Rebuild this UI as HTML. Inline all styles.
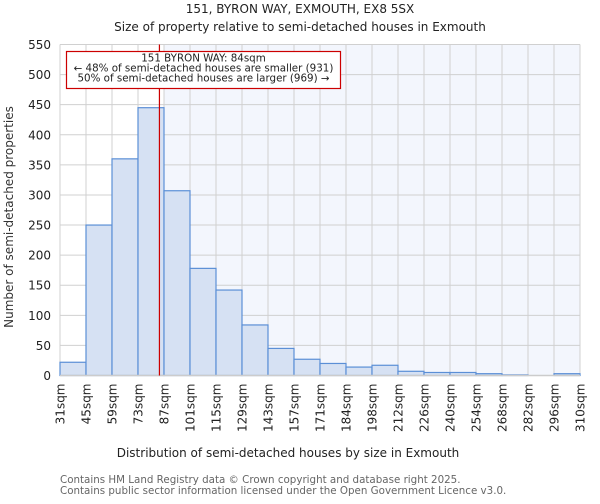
<!DOCTYPE html>
<html><head><meta charset="utf-8"><style>
body{margin:0;background:#fff;font-family:"DejaVu Sans","Liberation Sans",sans-serif;}
</style></head><body>
<svg width="600" height="500" xmlns="http://www.w3.org/2000/svg" font-family="DejaVu Sans, Liberation Sans, sans-serif">
<text x="300" y="13" text-anchor="middle" font-size="12" fill="#222">151, BYRON WAY, EXMOUTH, EX8 5SX</text>
<text x="300" y="31" text-anchor="middle" font-size="12" fill="#222">Size of property relative to semi-detached houses in Exmouth</text>
<g id="plot"></g>
<text x="288" y="457" text-anchor="middle" font-size="12" fill="#222">Distribution of semi-detached houses by size in Exmouth</text>
<text transform="translate(13,217) rotate(-90)" text-anchor="middle" font-size="12" fill="#333">Number of semi-detached properties</text>
<text x="60" y="483" font-size="10.3" fill="#666">Contains HM Land Registry data © Crown copyright and database right 2025.</text>
<text x="60" y="494" font-size="10.3" fill="#666">Contains public sector information licensed under the Open Government Licence v3.0.</text>
</svg>
<script>
const binLabels=["31sqm","45sqm","59sqm","73sqm","87sqm","101sqm","115sqm","129sqm","143sqm","157sqm","171sqm","184sqm","198sqm","212sqm","226sqm","240sqm","254sqm","268sqm","282sqm","296sqm","310sqm"];
const counts=[22,250,360,445,307,178,142,84,45,27,20,14,17,7,5,5,3,1,0,3];
const yTicks=[0,50,100,150,200,250,300,350,400,450,500,550];
const propertySize=84;
const ns="http://www.w3.org/2000/svg";
const g=document.getElementById('plot');
const L=60,R=580,T=44.5,B=375.5,yMax=550;
const bw=(R-L)/counts.length;
const y=v=>B-(B-T)*v/yMax;
const xi=i=>L+bw*i;
function sizeX(s){for(let i=0;i<binLabels.length-1;i++){const a=parseFloat(binLabels[i]),b=parseFloat(binLabels[i+1]);if(s>=a&&s<=b)return xi(i)+bw*(s-a)/(b-a);}return R;}
function mk(t,a){const e=document.createElementNS(ns,t);for(const k in a)e.setAttribute(k,a[k]);g.appendChild(e);return e;}
const px=sizeX(propertySize)+1;
let e=mk('rect',{x:L,y:T,width:R-L,height:B-T,fill:'#fff'});


e=mk('rect',{x:xi(4),y:T,width:R-xi(4),height:B-T,fill:'#f3f6fd'});


yTicks.forEach(v=>{
 let l=mk('line',{x1:L,x2:R,y1:y(v),y2:y(v),stroke:'#d0d0d0','stroke-width':1});
 
 
 let t=mk('text',{x:L-9,y:y(v)+4.5,'text-anchor':'end','font-size':12,fill:'#222'});
 t.textContent=v;
 
 
});
binLabels.forEach((s,i)=>{
 let l=mk('line',{x1:xi(i),x2:xi(i),y1:T,y2:B,stroke:'#d0d0d0','stroke-width':1});
 
 
 let t=mk('text',{transform:`translate(${xi(i)+4.5},${B+8}) rotate(-90)`,'text-anchor':'end','font-size':12,fill:'#222'});
 t.textContent=s;
 
 
});
counts.forEach((c,i)=>{
 let r=mk('rect',{x:xi(i),y:y(c),width:bw,height:B-y(c),fill:'#d6e1f3',stroke:'#5b8fd6','stroke-width':1.2});
 
 
});
e=mk('line',{x1:L,x2:R,y1:B,y2:B,stroke:'#ccc','stroke-width':1.5});


e=mk('line',{x1:px,x2:px,y1:T,y2:B,stroke:'#c00','stroke-width':1.2});


e=mk('rect',{x:66.5,y:51.5,width:274,height:37,fill:'#fff',stroke:'#c00','stroke-width':1.2});


const ann=["151 BYRON WAY: 84sqm","← 48% of semi-detached houses are smaller (931)","50% of semi-detached houses are larger (969) →"];
ann.forEach((s,i)=>{
 let t=mk('text',{x:203.5,y:61.5+i*10,'text-anchor':'middle','font-size':10.3,fill:'#222'});
 t.textContent=s;
 
 
});
</script>
</body></html>
